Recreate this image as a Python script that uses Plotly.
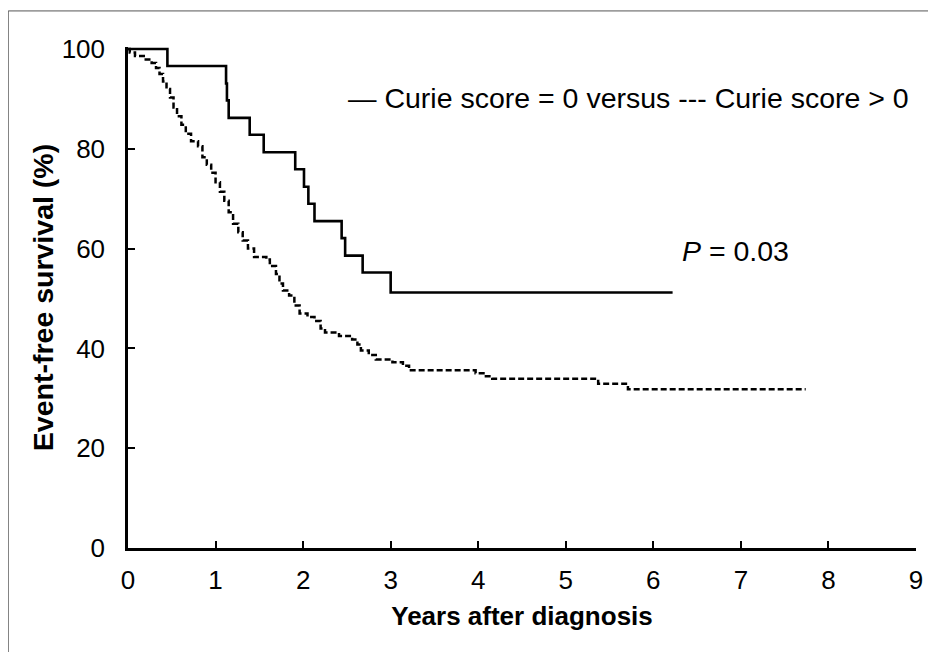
import plotly.graph_objects as go

# Curie score = 0 (solid)
t0 = [0, 0.45, 1.12, 1.13, 1.15, 1.39, 1.55, 1.91, 2.01, 2.06, 2.13, 2.44, 2.48, 2.68, 3.00, 6.22]
s0 = [100, 96.6, 93.1, 89.7, 86.2, 82.8, 79.3, 75.9, 72.4, 69.0, 65.5, 62.1, 58.6, 55.2, 51.2, 51.2]

# Curie score > 0 (dashed)
t1 = [0, 0.02, 0.08, 0.18, 0.27, 0.32, 0.36, 0.40, 0.44, 0.48, 0.52, 0.56, 0.61, 0.66,
      0.72, 0.80, 0.85, 0.90, 0.95, 1.00, 1.05, 1.10, 1.15, 1.20, 1.26, 1.31, 1.37, 1.44,
      1.58, 1.62, 1.69, 1.73, 1.77, 1.84, 1.90, 1.96, 2.05, 2.13, 2.20, 2.25, 2.41, 2.56,
      2.62, 2.66, 2.75, 2.83, 3.02, 3.14, 3.21, 3.97, 4.06, 4.16, 5.37, 5.71, 7.74]
s1 = [100, 99.3, 98.6, 97.9, 97.2, 96.2, 95.0, 93.5, 92.0, 90.3, 88.3, 86.5, 84.8, 83.0,
      81.5, 80.5, 78.3, 76.8, 75.2, 73.3, 71.4, 69.6, 67.3, 65.0, 63.3, 61.6, 60.0, 58.3,
      57.8, 56.5, 54.9, 53.0, 51.6, 50.6, 48.6, 47.0, 46.3, 45.5, 44.0, 43.2, 42.5, 41.8,
      40.8, 39.6, 38.7, 37.8, 37.2, 36.5, 35.6, 35.0, 34.4, 33.9, 32.9, 31.8, 31.8]

x_ticks = [0, 1, 2, 3, 4, 5, 6, 7, 8, 9]
y_ticks = [0, 20, 40, 60, 80, 100]

FONT = "Liberation Sans, Arial, sans-serif"

fig = go.Figure()
fig.add_trace(go.Scatter(x=t0, y=s0, mode="lines", line_shape="hv",
                         line=dict(color="black", width=2.6), showlegend=False))
fig.add_trace(go.Scatter(x=t1, y=s1, mode="lines", line_shape="hv",
                         line=dict(color="black", width=2.5, dash="6px,3px"), showlegend=False))

fig.add_annotation(x=2.49, y=90.2, xref="x", yref="y", xanchor="left", yanchor="middle",
                   text="— Curie score = 0 versus --- Curie score > 0", showarrow=False,
                   font=dict(family=FONT, size=28.5, color="black"))
fig.add_annotation(x=6.3, y=59.6, xref="x", yref="y", xanchor="left", yanchor="middle",
                   text="<i>P</i> = 0.03", showarrow=False,
                   font=dict(family=FONT, size=28.5, color="black"))

# frame lines (top and left of the figure)
fig.add_shape(type="line", xref="paper", yref="paper", x0=-0.152, x1=1.03, y0=1.072, y1=1.072,
              line=dict(color="#555555", width=1))
fig.add_shape(type="line", xref="paper", yref="paper", x0=-0.152, x1=-0.152, y0=-0.21, y1=1.072,
              line=dict(color="#555555", width=1))

fig.update_xaxes(range=[0, 9], tickvals=x_ticks, ticks="inside", ticklen=7, tickwidth=2,
                 tickcolor="black", showline=True, linecolor="black", linewidth=2.5,
                 showgrid=False, zeroline=False, automargin=False, ticklabelstandoff=7,
                 tickfont=dict(family=FONT, size=26, color="black"),
                 title=dict(text="<b>Years after diagnosis</b>", standoff=13,
                            font=dict(family=FONT, size=26, color="black")))
fig.update_yaxes(range=[0, 100.4], tickvals=y_ticks, ticks="inside", ticklen=7, tickwidth=2,
                 tickcolor="black", showline=True, linecolor="black", linewidth=2.5,
                 showgrid=False, zeroline=False, automargin=False, ticklabelstandoff=15,
                 tickfont=dict(family=FONT, size=26, color="black"),
                 title=dict(text="<b>Event-free survival (%)</b>", standoff=0,
                            font=dict(family=FONT, size=28.5, color="black")))

# page body adds an 8px offset, so the figure is 8px smaller and margins compensate
fig.update_layout(width=928, height=644, plot_bgcolor="white", paper_bgcolor="white",
                  margin=dict(l=120, r=20, t=39, b=104))

fig.write_html("out.html")
